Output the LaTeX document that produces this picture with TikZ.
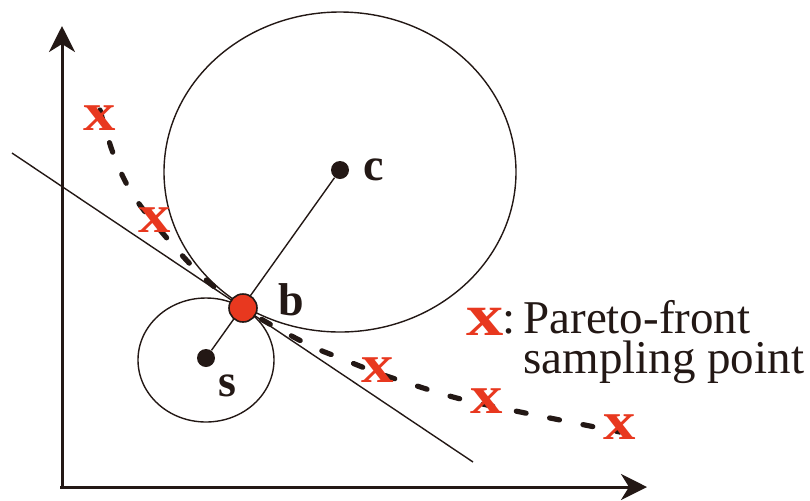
\documentclass[tikz,border=0pt]{standalone}
\usepackage{fontspec}
\setmainfont{Liberation Serif}
\usetikzlibrary{arrows.meta}
\definecolor{mred}{HTML}{E8381F}
\definecolor{ink}{HTML}{231815}
\tikzset{
  axis/.style={line width=1.5pt, draw=ink, -{Stealth[length=13pt,width=13pt,inset=4pt]}},
  thin line/.style={line width=0.7pt, draw=ink},
  dot/.style={circle, fill=ink, inner sep=0pt, minimum size=9pt},
  ptlabel/.style={font=\fontsize{23}{26}\selectfont\bfseries, text=ink, inner sep=0pt},
  xmark/.style={font=\fontsize{27}{27}\selectfont\bfseries, text=mred, inner sep=0pt, xscale=1.2},
  legend/.style={font=\fontsize{23.5}{20}\selectfont, text=ink, inner sep=0pt, align=left},
  front/.style={line width=2.6pt, draw=ink, dash pattern=on 5pt off 12pt, line cap=round},
}
\begin{document}
\begin{tikzpicture}[x=0.5pt,y=-0.5pt]
\useasboundingbox (0,0) rectangle (810,500);
% axes
\coordinate (O) at (62,487);
\coordinate (Ytip) at (62,26);
\coordinate (Xtip) at (647,487);
\draw[axis] (62,489) -- (Ytip);
\draw[axis] (60,487) -- (Xtip);
% circles
\draw[thin line] (340,172) ellipse [x radius=176, y radius=160];
\draw[thin line] (206,360) ellipse [x radius=68, y radius=62];
% tangent line
\coordinate (T1) at (12,153);
\coordinate (T2) at (473,462);
\draw[thin line] (T1) -- (T2);
% centres
\node[dot] (c) at (340,170) {};
\node[dot] (s) at (206,358) {};
\draw[thin line] (c) -- (s);
% pareto front
\draw[front] plot[smooth, tension=0.6] coordinates {(100,110) (113,153) (130,190) (155,224) (200,274) (243,308) (305,343) (340,358) (378,373) (417,386) (453,397) (487,405) (540,416) (620,432)};
% b point
\node[circle, fill=mred, draw=ink, line width=0.8pt, minimum size=14pt, inner sep=0pt] (b) at (243,308) {};
% labels
\node[ptlabel] (lc) at (374,170) {c};
\node[ptlabel] (lb) at (291,300) {b};
\node[ptlabel] (ls) at (227,386) {s};
% sampling points
\node[xmark] (x1) at (100,118) {x};
\node[xmark] (x2) at (155,220) {x};
\node[xmark] (x3) at (378,370) {x};
\node[xmark] (x4) at (487,401) {x};
\node[xmark] (x5) at (620,427) {x};
% legend
\node[xmark, xscale=1.15, yscale=1.1] (lx) at (485,322) {x};
\node[legend, anchor=north west] (lt) at (523,300) {\llap{:\,}Pareto-front\\sampling point};
\end{tikzpicture}
\end{document}
